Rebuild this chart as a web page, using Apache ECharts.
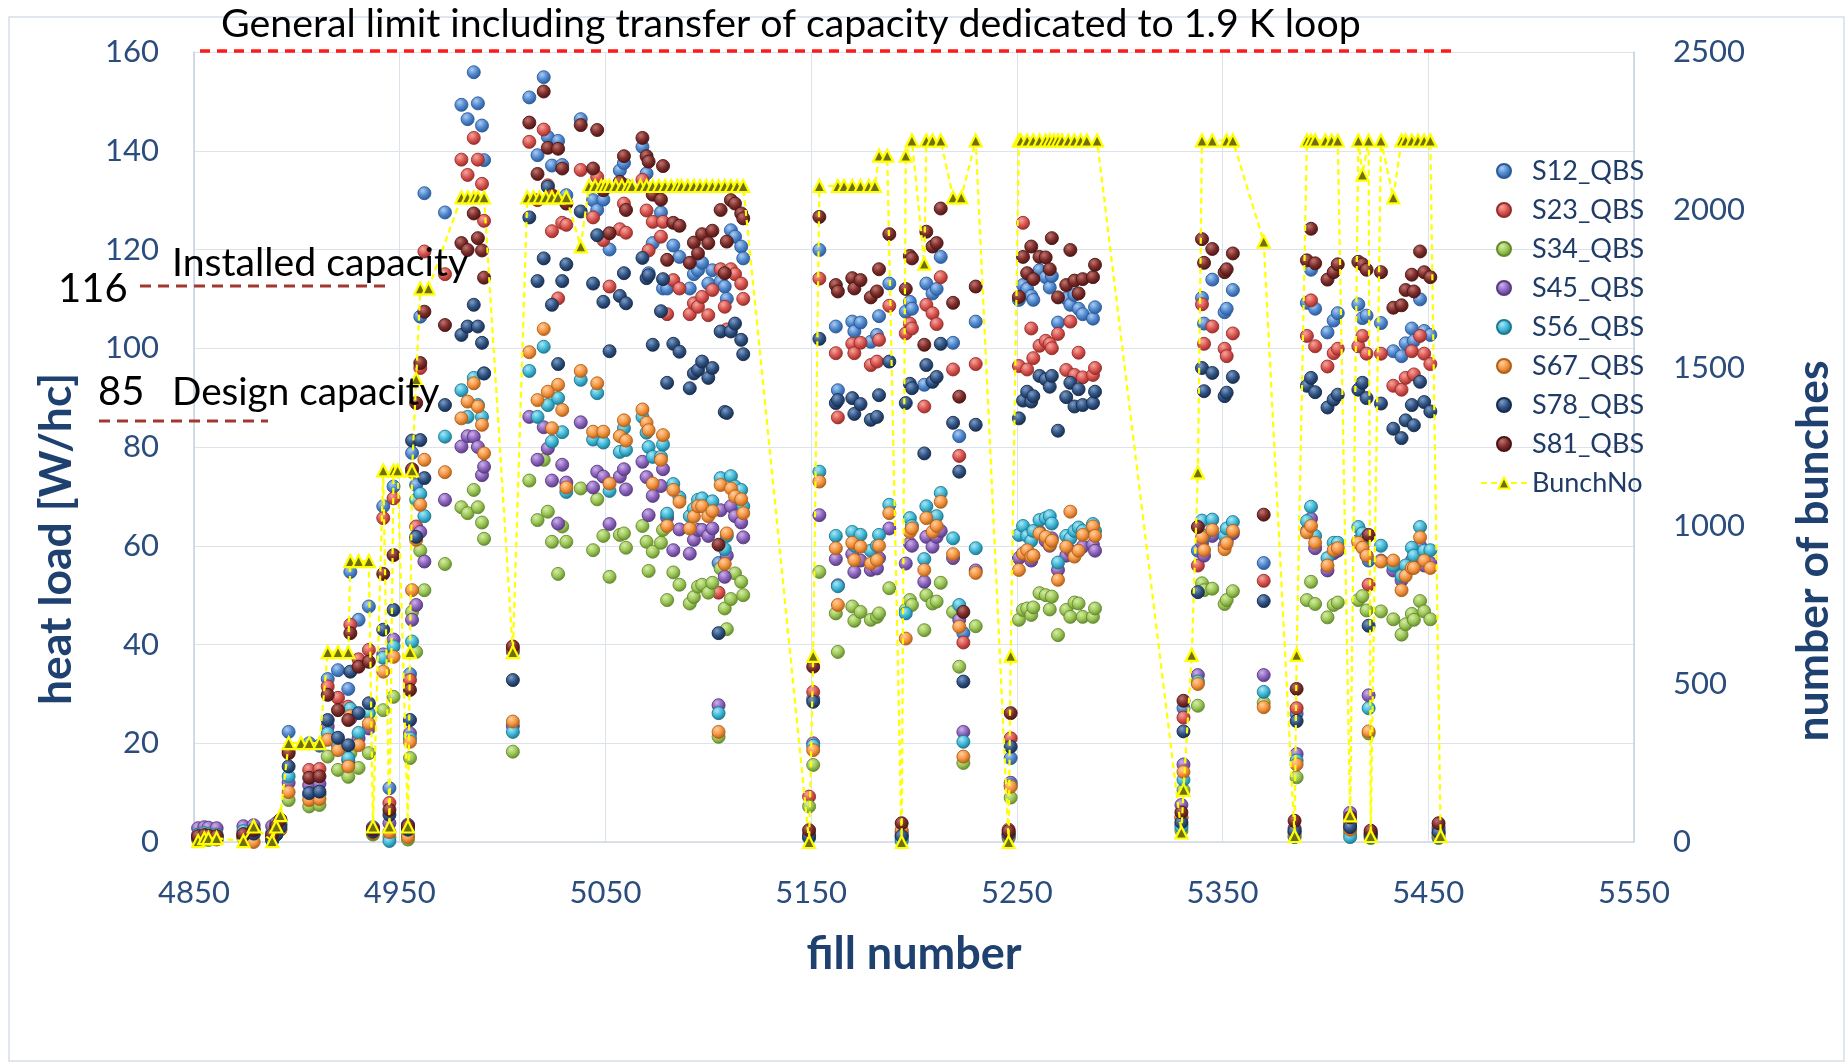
<!DOCTYPE html>
<html><head><meta charset="utf-8">
<script src="https://cdn.jsdelivr.net/npm/echarts@6/dist/echarts.min.js"></script>
<style>html,body{margin:0;padding:0;background:#fff}#c{width:1847px;height:1064px}</style>
</head><body><div id="c"></div>
<script>
const FONT = 'Lato, "Open Sans", sans-serif';
const X0 = 4850;
const xTicks = [4850, 4950, 5050, 5150, 5250, 5350, 5450, 5550];
const seriesNames = ['S12_QBS','S23_QBS','S34_QBS','S45_QBS','S56_QBS','S67_QBS','S78_QBS','S81_QBS'];

const fills = [4852,4855,4857,4861,4874,4879,4888,4890,4892,4896,4906,4911,4915,4920,4925,4926,4930,4935,4937,4942,4945,4947,4954,4955,4956,4958,4960,4962,4972,4980,4983,4986,4988,4990,4991,5005,5013,5017,5020,5022,5024,5027,5029,5031,5038,5044,5046,5049,5052,5057,5059,5060,5068,5070,5071,5073,5077,5078,5080,5083,5086,5091,5093,5095,5097,5100,5102,5105,5106,5108,5109,5111,5113,5116,5117,5149,5151,5154,5162,5163,5170,5171,5174,5179,5182,5183,5188,5194,5196,5198,5199,5205,5206,5209,5211,5213,5219,5222,5224,5230,5246,5247,5251,5253,5255,5257,5258,5261,5264,5266,5267,5270,5274,5276,5278,5280,5282,5287,5288,5330,5331,5338,5340,5341,5345,5351,5352,5355,5370,5385,5386,5391,5393,5395,5401,5404,5406,5412,5416,5418,5420,5421,5422,5427,5433,5437,5439,5442,5443,5446,5448,5451,5455];

const s12 = [1.0,1.2,1.0,1.1,1.5,2.0,1.2,2.5,4.0,22.3,20.0,19.5,33.0,34.8,31.0,54.7,45.0,47.7,3.0,68.0,10.9,72.0,3.5,34.0,78.8,72.3,106.4,131.4,127.5,149.3,146.4,155.9,149.6,145.1,138.1,38.5,150.8,139.1,154.9,142.8,137.0,142.0,137.1,131.0,146.4,130.0,128.0,130.1,120.0,136.0,137.5,133.0,140.8,135.4,115.2,121.3,127.5,112.1,112.1,120.8,118.5,112.1,115.0,115.8,117.3,113.1,115.8,56.5,113.5,112.5,110.0,123.9,122.6,120.6,118.2,1.5,29.0,119.9,104.4,91.5,105.4,103.4,105.2,101.3,102.7,106.5,113.1,1.5,107.4,109.4,108.0,92.6,113.1,111.1,112.0,118.5,101.1,82.2,42.3,105.4,1.8,17.0,109.8,112.8,112.0,110.6,109.8,115.8,114.4,112.3,114.6,105.2,110.1,108.8,110.8,108.0,106.9,106.0,108.3,3.5,27.1,59.0,110.2,105.0,113.9,107.3,108.0,111.8,56.5,2.0,26.0,109.2,115.9,108.0,103.2,105.6,107.1,3.3,108.9,106.1,106.6,57.0,1.5,105.1,99.4,98.4,101.0,104.0,101.5,109.9,103.5,102.7,1.8];
const s23 = [0.8,1.0,0.9,0.8,1.2,1.8,1.0,2.0,3.5,18.5,14.6,14.8,31.5,29.2,27.4,44.0,37.0,38.9,2.5,65.6,7.9,69.6,3.0,32.8,75.0,63.9,96.0,119.6,115.0,138.2,135.1,142.6,138.2,133.3,125.8,39.0,141.8,130.0,144.3,133.0,123.7,110.1,125.4,125.0,136.1,126.5,134.7,121.9,112.5,124.1,129.3,123.4,134.1,127.9,119.8,125.6,122.6,125.6,106.9,113.8,112.1,106.9,109.1,108.4,110.4,106.7,111.8,50.5,116.0,108.4,103.8,116.0,115.0,113.1,110.0,9.2,30.4,114.1,99.0,86.0,100.9,99.0,101.1,96.6,97.3,101.7,108.6,2.0,103.0,105.0,104.0,88.2,108.8,107.1,104.9,114.4,95.7,78.2,40.4,96.8,2.5,21.0,96.4,125.4,95.7,104.0,98.0,100.5,101.5,100.9,100.0,102.9,95.6,105.4,94.6,99.1,94.1,94.6,96.0,4.9,25.2,56.0,108.9,100.9,104.4,99.9,98.4,103.0,52.9,2.8,27.1,102.5,109.7,100.4,96.3,99.0,99.9,4.0,100.4,102.5,98.9,52.1,2.0,98.9,92.4,91.6,94.0,99.4,94.7,102.5,98.9,96.8,2.5];
const s34 = [0.5,0.6,0.4,0.5,0.8,1.5,0.5,1.5,2.5,8.5,7.2,7.5,17.3,14.6,13.2,18.0,15.0,18.0,1.5,26.7,1.0,29.4,0.5,17.0,46.6,38.5,59.0,51.0,56.3,67.8,66.6,71.3,67.8,64.7,61.4,18.3,73.2,65.2,77.4,66.9,60.8,54.3,63.9,60.8,71.6,59.1,69.4,62.0,53.7,62.2,62.5,59.6,64.0,60.8,54.9,58.8,60.6,63.2,49.0,54.6,52.1,48.3,49.6,51.7,52.1,50.5,52.5,21.3,55.4,47.3,43.1,49.2,54.4,52.7,50.0,7.2,15.6,54.7,46.3,38.5,47.7,44.8,46.6,45.0,45.6,46.3,51.4,0.5,47.0,49.0,48.0,42.9,50.0,48.3,48.7,52.5,46.6,35.5,16.0,43.7,1.0,9.0,45.0,47.0,47.3,46.0,47.5,50.4,50.0,47.1,49.7,41.9,47.0,45.6,48.5,48.3,45.6,45.6,47.3,2.3,10.5,27.6,52.4,51.0,51.3,48.2,49.0,50.8,28.2,1.2,13.1,49.0,52.7,48.2,45.5,48.0,48.5,1.8,49.0,49.8,46.9,22.0,0.8,46.7,45.1,42.0,44.1,46.2,45.0,48.8,46.7,45.1,0.8];
const s45 = [2.8,3.0,2.9,2.8,3.2,3.4,3.2,3.8,4.5,12.0,11.5,11.8,23.4,20.0,16.5,25.0,21.0,23.0,2.8,38.0,3.8,41.0,3.4,22.0,45.0,48.0,62.8,56.8,69.3,80.1,82.2,82.1,80.0,74.3,76.0,23.5,86.1,77.4,84.0,79.7,73.2,64.5,76.4,72.8,85.0,71.8,75.0,74.0,64.4,74.0,75.5,71.4,77.0,73.9,66.2,70.1,72.1,75.5,65.7,59.1,63.3,58.4,61.2,63.2,63.2,62.0,63.5,27.7,67.2,53.7,58.0,68.0,66.0,64.7,61.7,1.0,20.0,66.2,57.3,52.0,58.3,54.7,57.0,55.1,55.4,57.5,63.5,1.0,56.4,60.5,60.0,52.7,61.8,59.8,61.8,63.0,57.5,45.0,22.3,55.0,1.5,12.0,57.5,58.4,59.0,57.0,58.0,62.8,61.0,60.0,61.5,55.1,58.0,59.0,58.5,59.0,59.8,60.2,59.0,7.5,15.7,33.8,60.6,58.0,62.0,60.0,61.0,62.5,33.8,2.5,17.8,63.0,65.5,59.5,55.0,58.5,59.0,5.9,61.0,60.0,58.0,29.7,1.8,57.0,55.0,53.0,54.5,57.0,56.0,60.0,56.0,56.5,3.0];
const s56 = [1.5,1.8,1.6,1.5,2.2,2.6,1.8,3.0,3.5,13.3,9.5,9.7,22.0,19.5,17.0,27.0,22.1,26.1,2.0,37.3,0.2,39.6,1.5,21.0,40.6,69.3,70.5,66.0,82.1,91.5,86.1,94.0,88.5,86.1,94.9,22.3,95.4,86.1,100.3,88.5,81.1,89.9,83.0,70.9,93.6,81.5,90.9,80.9,71.1,79.0,83.8,79.4,86.1,82.9,80.0,78.0,78.0,80.5,66.5,72.5,69.8,66.0,67.5,69.3,69.6,68.0,69.0,26.1,73.7,59.3,62.0,74.1,72.0,71.3,68.0,0.8,19.5,75.0,62.0,51.8,62.8,60.0,62.2,59.0,60.0,62.2,68.3,0.2,46.3,65.6,64.0,57.3,68.0,65.6,66.0,70.7,61.5,48.0,20.3,59.5,0.8,11.5,62.2,64.0,62.0,61.0,63.0,65.2,65.6,66.0,64.5,56.6,62.0,61.5,63.0,63.7,63.0,64.4,63.0,3.0,12.6,32.5,65.1,62.0,65.3,62.0,63.5,64.8,30.4,1.0,16.5,65.0,67.9,62.0,57.5,60.6,60.6,1.0,63.8,62.5,61.7,27.1,1.0,60.0,56.0,53.9,56.0,59.6,58.0,63.8,59.0,59.1,1.0];
const s67 = [0.6,0.8,0.7,0.6,1.0,0.0,0.7,2.0,2.5,10.1,8.5,8.7,20.7,18.6,15.3,25.5,19.6,24.0,1.8,34.5,2.0,37.5,1.0,20.3,51.0,61.2,68.3,77.4,74.9,85.8,89.2,92.9,88.2,84.5,78.7,24.4,99.2,89.5,103.9,91.2,83.8,92.6,87.5,71.8,95.4,83.1,92.9,83.1,72.6,82.2,85.4,81.3,87.6,84.9,83.4,72.6,77.4,82.4,64.0,71.3,68.9,63.5,65.9,68.0,68.0,66.0,67.0,22.3,72.3,56.3,62.5,71.6,70.0,69.4,66.6,1.2,18.6,73.0,59.5,48.0,60.6,57.1,59.8,56.4,57.1,60.0,66.6,2.4,41.2,62.8,63.5,55.1,65.6,62.8,64.0,68.9,58.3,43.6,17.3,54.5,1.2,11.2,55.1,58.4,59.1,57.8,58.0,62.5,61.8,60.2,61.0,53.1,59.8,66.9,57.8,59.0,62.2,63.9,62.0,5.0,14.2,32.0,61.7,59.1,63.2,59.3,60.5,63.0,27.3,1.8,15.7,62.7,64.0,60.6,56.0,59.1,59.5,2.5,60.6,59.6,58.0,22.4,1.2,56.8,57.0,51.0,53.9,55.5,55.5,61.7,57.0,55.5,1.5];
const s78 = [0.9,1.1,1.0,0.9,1.3,1.7,0.3,1.5,3.0,15.3,9.9,10.2,24.7,21.1,19.6,34.5,26.1,28.1,2.1,43.0,5.5,47.0,2.5,24.7,81.3,61.8,81.4,73.7,88.5,102.7,104.4,108.8,104.4,101.1,94.9,32.8,126.5,113.6,118.2,132.7,108.8,96.8,113.6,117.0,127.7,113.1,122.9,109.4,99.4,110.6,115.2,109.1,118.3,114.2,114.8,100.7,107.5,114.0,93.0,100.9,99.3,91.9,94.9,95.6,97.3,94.0,96.0,42.3,103.4,87.1,86.9,103.4,105.0,101.7,98.8,1.1,28.4,101.9,88.9,89.5,89.9,86.7,88.7,85.5,86.1,90.5,97.3,1.2,88.9,92.8,91.9,78.7,96.6,93.2,94.2,100.9,84.9,75.0,32.5,84.5,1.6,19.3,85.8,89.4,91.2,89.2,90.3,94.4,93.7,92.2,94.4,83.3,90.1,93.0,88.2,91.7,88.5,88.9,91.2,4.0,22.4,50.6,96.0,91.3,95.0,90.3,91.0,94.2,48.8,2.2,24.5,92.4,94.0,91.1,88.0,89.6,90.6,3.0,91.6,93.0,89.9,43.8,1.5,88.8,83.7,81.8,85.4,88.5,84.4,93.2,89.1,87.2,2.0];
const s81 = [1.2,1.4,1.3,1.2,1.6,2.4,1.5,3.2,4.5,18.0,13.0,13.3,29.8,26.7,24.7,42.3,35.5,36.5,2.6,54.3,6.5,58.1,3.2,30.8,75.5,88.9,97.0,107.4,104.7,121.3,119.9,127.3,122.3,119.8,114.3,39.6,145.7,135.3,152.0,140.6,131.0,140.4,136.4,129.3,145.2,136.4,144.2,132.0,123.3,133.7,138.9,128.0,142.6,138.9,137.8,131.1,130.1,136.9,117.9,125.4,124.8,117.3,121.4,119.2,123.1,121.3,123.8,60.2,128.0,115.2,121.6,130.0,129.3,127.3,126.3,2.4,35.5,126.6,112.8,111.5,114.2,112.1,113.8,110.3,111.5,116.0,123.1,3.8,112.0,118.7,118.2,100.7,123.6,120.6,121.3,128.3,109.2,90.2,46.6,112.5,2.2,26.1,110.4,118.5,115.2,120.6,114.0,118.5,118.4,116.0,122.3,110.3,112.8,119.9,113.7,111.1,114.0,114.4,116.9,6.0,28.6,63.8,122.1,117.3,120.1,115.4,116.0,119.2,66.3,4.3,31.0,117.8,124.2,117.2,113.9,115.4,117.0,5.0,117.5,117.0,115.9,62.2,2.3,115.4,108.2,108.7,111.8,114.9,111.5,119.6,115.4,114.4,3.8];

const bunchFills = [4852,4855,4857,4861,4874,4879,4888,4890,4892,4896,4902,4906,4911,4915,4920,4925,4926,4930,4935,4937,4942,4945,4947,4949,4954,4955,4956,4958,4960,4964,4980,4983,4986,4988,4991,5005,5012,5015,5018,5021,5024,5027,5031,5038,5042,5045,5048,5050,5052,5055,5058,5061,5063,5067,5070,5073,5076,5079,5082,5085,5087,5090,5093,5096,5099,5102,5105,5108,5111,5114,5117,5149,5151,5154,5163,5166,5170,5174,5178,5181,5183,5187,5194,5196,5199,5205,5206,5209,5213,5219,5223,5230,5246,5247,5251,5252,5255,5258,5261,5264,5266,5268,5270,5272,5275,5278,5281,5284,5289,5330,5331,5335,5338,5340,5345,5352,5355,5370,5385,5386,5391,5393,5395,5400,5403,5406,5412,5416,5418,5421,5422,5427,5433,5437,5439,5442,5445,5448,5451,5456];
const bunchCounts = [3,12,12,12,3,49,3,49,85,313,313,313,313,601,601,601,889,889,889,49,1176,49,1176,1176,49,601,1176,1465,1752,1752,2040,2040,2040,2040,2040,601,2040,2040,2040,2040,2040,2040,2040,1885,2076,2076,2076,2076,2076,2076,2076,2076,2076,2076,2076,2076,2076,2076,2076,2076,2076,2076,2076,2076,2076,2076,2076,2076,2076,2076,2076,0,589,2076,2076,2076,2076,2076,2076,2076,2172,2172,0,2172,2220,1830,2220,2220,2220,2040,2040,2220,0,589,2220,2220,2220,2220,2220,2220,2220,2220,2220,2220,2220,2220,2220,2220,2220,30,165,592,1170,2220,2220,2220,2220,1900,19,592,2220,2220,2220,2220,2220,2220,84,2220,2112,2220,19,2220,2040,2220,2220,2220,2220,2220,2220,19];

const palette = [
  ['#A9CCF4','#4F86CC','#2B5A98'],
  ['#F4A7A0','#D9534E','#962D2A'],
  ['#D6EDA6','#9CC656','#648A2E'],
  ['#CDB2EA','#8C63BD','#573B80'],
  ['#A8E8F6','#3FB7D6','#1F7890'],
  ['#FFD0A0','#F59440','#B0601A'],
  ['#7E9CC4','#2F5283','#172C4C'],
  ['#C07470','#7D2D2A','#4A1514']
];
const valueSets = [s12, s23, s34, s45, s56, s67, s78, s81];

const scatterSeries = seriesNames.map((name, k) => ({
  name, type: 'scatter', symbol: 'circle', symbolSize: 13,
  data: fills.map((f, i) => valueSets[k][i] == null ? null : [f - X0, valueSets[k][i]]).filter(Boolean),
  itemStyle: {
    color: { type: 'radial', x: 0.38, y: 0.32, r: 0.68,
      colorStops: [{offset: 0, color: palette[k][0]}, {offset: 0.55, color: palette[k][1]}, {offset: 1, color: palette[k][2]}] },
    borderColor: palette[k][2], borderWidth: 0.9, opacity: 1
  },
  emphasis: {disabled: true}, z: 2 + k
}));

const bunchSeries = {
  name: 'BunchNo', type: 'line', yAxisIndex: 1,
  data: bunchFills.map((f, i) => [f - X0, bunchCounts[i]]),
  symbol: 'triangle', symbolSize: 12,
  lineStyle: {color: '#FFFF00', width: 2.2, type: [6, 4]},
  itemStyle: {color: '#6F6F12', borderColor: '#FFFF00', borderWidth: 2.2},
  emphasis: {disabled: true}, z: 20, animation: false
};

const axisLabelStyle = {fontFamily: FONT, fontSize: 31, color: '#2B4D7D'};
const option = {
  animation: false,
  backgroundColor: '#ffffff',
  grid: {left: 194, right: 213, top: 52, bottom: 222, containLabel: false},
  xAxis: {
    type: 'value', min: 0, max: 700, interval: 100,
    axisLabel: Object.assign({margin: 35, formatter: v => String(v + X0)}, axisLabelStyle),
    axisLine: {show: true, lineStyle: {color: '#D3D9E2', width: 1.5}},
    axisTick: {show: false},
    splitLine: {show: true, lineStyle: {color: '#DCE3ED', width: 1}}
  },
  yAxis: [
    {type: 'value', min: 0, max: 160, interval: 20, position: 'left',
      axisLabel: Object.assign({margin: 35, formatter: v => String(v)}, axisLabelStyle),
      axisLine: {show: true, lineStyle: {color: '#C9D3E0', width: 1.5}},
      axisTick: {show: false},
      splitLine: {show: true, lineStyle: {color: '#DCE3ED', width: 1}}},
    {type: 'value', min: 0, max: 2500, interval: 500, position: 'right',
      axisLabel: Object.assign({margin: 39, formatter: v => String(v)}, axisLabelStyle),
      axisLine: {show: true, lineStyle: {color: '#C9D3E0', width: 1.5}},
      axisTick: {show: false},
      splitLine: {show: false}}
  ],
  legend: {
    orient: 'vertical', left: 1475, top: 151,
    itemWidth: 46, itemHeight: 14, itemGap: 9,
    data: seriesNames.concat(['BunchNo']),
    textStyle: {fontFamily: FONT, fontSize: 27, color: '#1F3B66', lineHeight: 30},
    selectedMode: false
  },
  series: scatterSeries.concat([bunchSeries]),
  graphic: [
    {type: 'rect', silent: true, z: -10, shape: {x: 9, y: 17, width: 1835, height: 1044},
      style: {fill: 'none', stroke: '#D6DEE9', lineWidth: 1.5}},
    {type: 'text', silent: true, z: 100, x: 221, y: 24,
      style: {text: 'General limit including transfer of capacity dedicated to 1.9 K loop', fontFamily: FONT, fontSize: 39.3, fill: '#000', textAlign: 'left', textVerticalAlign: 'middle'}},
    {type: 'line', silent: true, z: 100, shape: {x1: 200, y1: 51, x2: 1457, y2: 51},
      style: {stroke: '#FF1A1A', lineWidth: 3.5, lineDash: [10, 7]}},
    {type: 'text', silent: true, z: 100, x: 58, y: 289,
      style: {text: '116', fontFamily: FONT, fontSize: 40, fill: '#000', textAlign: 'left', textVerticalAlign: 'middle'}},
    {type: 'text', silent: true, z: 100, x: 172, y: 263,
      style: {text: 'Installed capacity', fontFamily: FONT, fontSize: 39.2, fill: '#000', textAlign: 'left', textVerticalAlign: 'middle'}},
    {type: 'line', silent: true, z: 100, shape: {x1: 140, y1: 286, x2: 387, y2: 286},
      style: {stroke: '#A3362F', lineWidth: 3, lineDash: [11, 7]}},
    {type: 'text', silent: true, z: 100, x: 98, y: 392,
      style: {text: '85', fontFamily: FONT, fontSize: 40, fill: '#000', textAlign: 'left', textVerticalAlign: 'middle'}},
    {type: 'text', silent: true, z: 100, x: 172, y: 393,
      style: {text: 'Design capacity', fontFamily: FONT, fontSize: 38.7, fill: '#000', textAlign: 'left', textVerticalAlign: 'middle'}},
    {type: 'line', silent: true, z: 100, shape: {x1: 99, y1: 421, x2: 268, y2: 421},
      style: {stroke: '#A3362F', lineWidth: 3, lineDash: [11, 7]}},
    {type: 'text', silent: true, z: 100, x: 57, y: 539, rotation: Math.PI / 2,
      style: {text: 'heat load [W/hc]', fontFamily: FONT, fontSize: 44.5, fontWeight: 'bold', fill: '#1F4170', textAlign: 'center', textVerticalAlign: 'middle'}},
    {type: 'text', silent: true, z: 100, x: 1814, y: 551, rotation: Math.PI / 2,
      style: {text: 'number of bunches', fontFamily: FONT, fontSize: 44.5, fontWeight: 'bold', fill: '#1F4170', textAlign: 'center', textVerticalAlign: 'middle'}},
    {type: 'text', silent: true, z: 100, x: 914, y: 954,
      style: {text: 'fill number', fontFamily: FONT, fontSize: 45, fontWeight: 'bold', fill: '#1F4170', textAlign: 'center', textVerticalAlign: 'middle'}}
  ]
};
const chart = echarts.init(document.getElementById('c'));
chart.setOption(option);
</script>
</body></html>
